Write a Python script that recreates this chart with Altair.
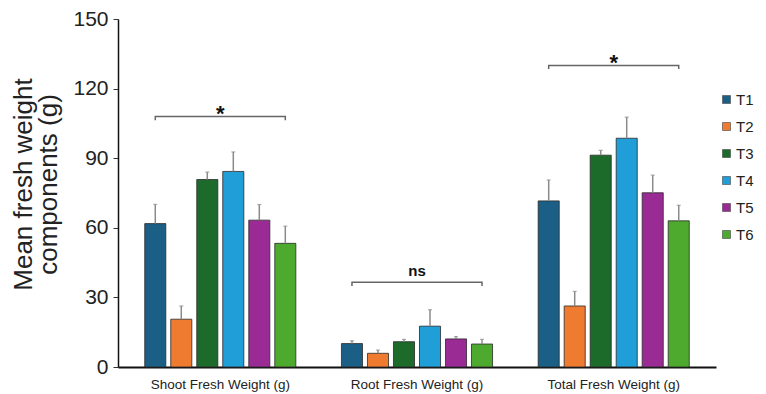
import altair as alt
import pandas as pd

groups = ["Shoot Fresh Weight (g)", "Root Fresh Weight (g)", "Total Fresh Weight (g)"]
treatments = ["T1", "T2", "T3", "T4", "T5", "T6"]
colors = ["#1b5e86", "#ef7b30", "#1d6b2a", "#1f9ed8", "#9a2b95", "#4ea92f"]

shoot_means = [61.8, 20.6, 80.8, 84.3, 63.3, 53.3]
shoot_se = [8.3, 5.7, 3.2, 8.4, 6.7, 7.4]
root_means = [10.1, 5.9, 10.9, 17.6, 12.1, 9.9]
root_se = [1.2, 1.4, 1.0, 7.1, 1.0, 2.0]
total_means = [71.6, 26.3, 91.3, 98.6, 75.1, 63.0]
total_se = [9.0, 6.3, 2.1, 9.1, 7.6, 6.7]

bracket_y = [108, 36.5, 130]
bracket_text = ["*", "ns", "*"]
y_ticks = [0, 30, 60, 90, 120, 150]

FONT = "Liberation Sans"

rows = []
for g, means, ses in zip(groups, [shoot_means, root_means, total_means],
                         [shoot_se, root_se, total_se]):
    for t, m, s in zip(treatments, means, ses):
        rows.append({"group": g, "treatment": t, "mean": m, "upper": m + s})
df = pd.DataFrame(rows)

br_rows = []
for g, yb in zip(groups, bracket_y):
    br_rows += [
        {"group": g, "treatment": "T1", "y": yb - 1.6, "ord": 0},
        {"group": g, "treatment": "T1", "y": yb, "ord": 1},
        {"group": g, "treatment": "T6", "y": yb, "ord": 2},
        {"group": g, "treatment": "T6", "y": yb - 1.6, "ord": 3},
    ]
br = pd.DataFrame(br_rows)
txt = pd.DataFrame({"group": groups, "y": bracket_y, "label": bracket_text})

x_enc = alt.X("group:N", sort=groups,
              scale=alt.Scale(paddingInner=0, paddingOuter=0.02),
              axis=alt.Axis(title=None, labelAngle=0, ticks=False, labelFontSize=13.5,
                            labelColor="#222", labelPadding=10, domainColor="#111",
                            domainWidth=2, labelFont=FONT))
xo_enc = alt.XOffset("treatment:N", sort=treatments,
                     scale=alt.Scale(paddingInner=0.19, paddingOuter=0.877))
y_scale = alt.Scale(domain=[0, 150], nice=False)

bars = alt.Chart(df).mark_bar(stroke="#2a2a2a", strokeWidth=0.8).encode(
    x=x_enc,
    xOffset=xo_enc,
    y=alt.Y("mean:Q", scale=y_scale,
            axis=alt.Axis(values=y_ticks, grid=False, labelFontSize=21, labelColor="#222",
                          tickColor="#333", tickSize=5, tickWidth=1, domainColor="#111",
                          domainWidth=1.5, labelPadding=5, labelFont=FONT,
                          title=["Mean fresh weight", "components (g)"],
                          titleFont=FONT, titleFontSize=26, titleFontWeight="normal",
                          titleColor="#222", titleLineHeight=25, titleX=-82, titleY=165)),
    color=alt.Color("treatment:N", sort=treatments,
                    scale=alt.Scale(domain=treatments, range=colors),
                    legend=alt.Legend(title=None, orient="none", legendX=601, legendY=73,
                                      symbolType="square", symbolSize=64,
                                      symbolStrokeColor="#444", symbolStrokeWidth=0.6,
                                      labelFontSize=15, labelFont=FONT, labelColor="#222",
                                      labelOffset=2, rowPadding=11)),
)

err = alt.Chart(df).mark_rule(color="#8a8a8a", strokeWidth=1.5).encode(
    x=alt.X("group:N", sort=groups), xOffset=alt.XOffset("treatment:N", sort=treatments),
    y="mean:Q", y2="upper:Q")

caps = alt.Chart(df).mark_tick(color="#8a8a8a", thickness=1.2, size=4).encode(
    x=alt.X("group:N", sort=groups), xOffset=alt.XOffset("treatment:N", sort=treatments),
    y="upper:Q")

brackets = alt.Chart(br).mark_line(color="#666", strokeWidth=1.5).encode(
    x=alt.X("group:N", sort=groups), xOffset=alt.XOffset("treatment:N", sort=treatments),
    y="y:Q", order="ord:Q", detail="group:N")

stars = alt.Chart(txt).transform_filter(alt.datum.label == "*").mark_text(
    fontSize=22, fontWeight="bold", font=FONT, baseline="alphabetic", dy=5, color="#111").encode(
    x=alt.X("group:N", sort=groups), y="y:Q", text="label:N")

ns = alt.Chart(txt).transform_filter(alt.datum.label == "ns").mark_text(
    fontSize=15, fontWeight="bold", font=FONT, baseline="alphabetic", dy=-6, color="#111").encode(
    x=alt.X("group:N", sort=groups), y="y:Q", text="label:N")

chart = alt.layer(bars, err, caps, brackets, stars, ns).properties(
    width=598, height=348,
    autosize=alt.AutoSizeParams(type="none"),
    padding={"left": 110, "top": 11, "right": 42, "bottom": 26},
).configure(background="white", view=alt.ViewConfig(stroke=None))

chart.save("out.html", embed_options={"renderer": "svg", "actions": False})
